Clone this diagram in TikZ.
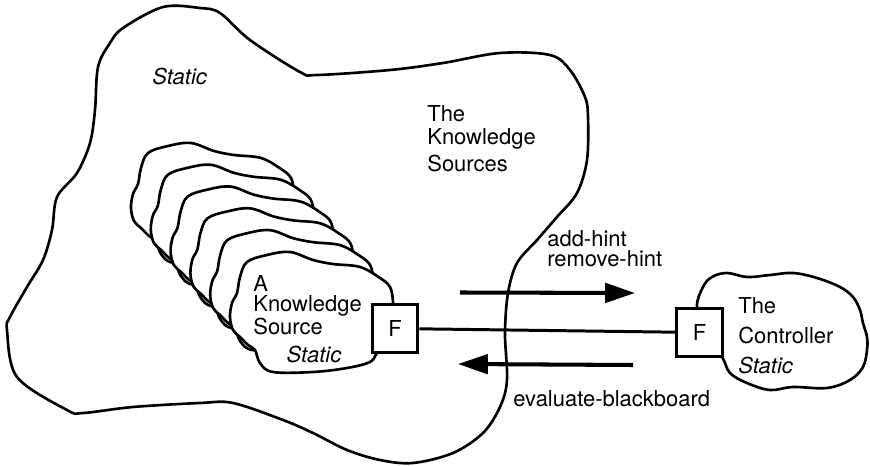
\documentclass[tikz,border=0pt]{standalone}
\usepackage{fontspec}
\setmainfont{TeX Gyre Heros}
\usetikzlibrary{arrows.meta}

\begin{document}
\begin{tikzpicture}[x=0.02cm, y=-0.02cm,
	blobLine/.style={line width=1.5pt, line join=round},
	ksCloud/.style={blobLine, fill=white},
	fBox/.style={draw, fill=white, line width=1.7pt, minimum width=26pt, minimum height=27pt, inner sep=0pt, font=\fontsize{12.5}{11.3}\selectfont},
	textLbl/.style={inner sep=0pt, anchor=north west, align=left, font=\fontsize{12.5}{11.3}\selectfont},
	msgArrow/.style={line width=2.3pt, -{Triangle[length=17pt, width=11pt]}}]
\useasboundingbox (0,0) rectangle (870,466);
	\draw[blobLine] plot[smooth cycle, tension=0.55] coordinates {
		(98,67) (110,43) (123,28) (163,7) (200,8) (220,13) (250,40) (300,72)
		(317,75) (390,70) (443,63) (500,53) (550,55) (570,70) (585,97) (588,117)
		(587,160) (577,193) (557,217) (537,240) (517,263) (508,293) (505,333)
		(507,380) (500,407) (483,433) (453,453) (413,463) (380,460) (347,450)
		(313,433) (283,420) (233,403) (200,403) (133,407) (83,413) (67,410)
		(17,377) (7,330) (10,317) (27,287) (43,260) (52,230) (57,197) (77,173)
		(90,143) (95,110)};
	\foreach \i in {5,4,3,2,1,0}
		\draw[ksCloud, shift={(247-19.8*\i,262-21.8*\i)}] plot[smooth cycle, tension=0.6] coordinates {
			(0,0) (20,-7) (43,-10) (66,-2) (86,2) (113,5) (133,16) (143,25)
			(146,40) (146,60) (140,80) (130,91) (123,100) (100,106) (66,110)
			(26,110) (13,101) (8,88) (1,83) (-7,75) (-14,68) (-17,55) (-15,41)
			(-10,31) (-7,15)};
	\draw[ksCloud] plot[smooth cycle, tension=0.6] coordinates {
		(697,307) (703,287) (712,277) (727,273) (747,277) (770,275) (793,273)
		(817,278) (840,287) (853,297) (860,310) (863,323) (867,337) (867,350)
		(863,367) (850,380) (827,388) (793,387) (770,390) (747,383) (730,373)
		(722,357) (705,335)};
	\node[fBox] (fKs) at (395,328.5) {F};
	\node[fBox] (fCtl) at (699.5,332.5) {F};
	\draw[line width=1.7pt] (fKs) -- (fCtl);
	\coordinate (hintFrom) at (460,292.5);
	\coordinate (hintTo) at (635,293);
	\draw[msgArrow] (hintFrom) -- (hintTo);
	\coordinate (evalFrom) at (633,365);
	\coordinate (evalTo) at (458,364);
	\draw[msgArrow] (evalFrom) -- (evalTo);
	\node[textLbl] (staticAll) at (152,68) {\textit{Static}};
	\node[textLbl] (ksTitle) at (427,105) {The\\[2pt]Knowledge\\[2pt]Sources};
	\node[textLbl] (ksName) at (253,275) {A\\Knowledge\\Source\\[4.6pt]\hspace*{19pt}\textit{Static}};
	\node[textLbl] (hints) at (547,230) {add-hint\\remove-hint};
	\node[textLbl] (evalMsg) at (513,390) {evaluate-blackboard};
	\node[textLbl] (ctlName) at (738,297) {The\\[5.7pt]Controller\\[5.7pt]\textit{Static}};
\end{tikzpicture}
\end{document}
